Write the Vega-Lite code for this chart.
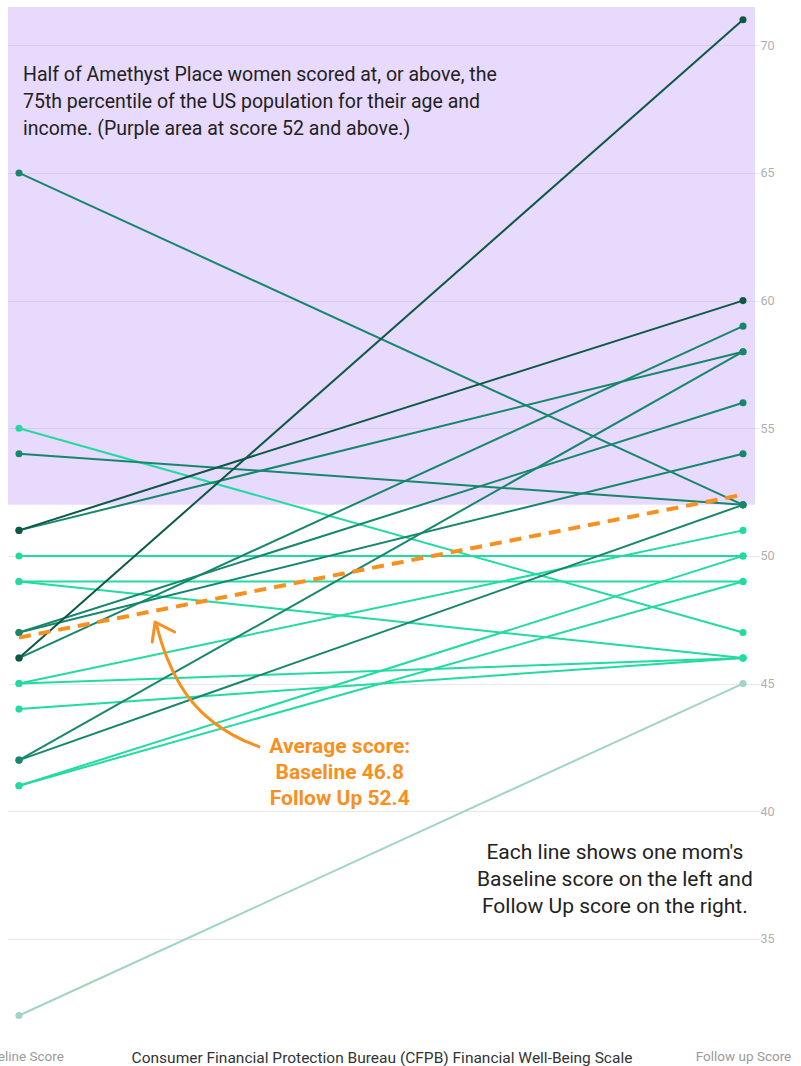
{
  "$schema": "https://vega.github.io/schema/vega-lite/v6.json",
  "width": 747,
  "height": 1034,
  "autosize": {"type": "none"},
  "padding": {"left": 8, "top": 7, "right": 46, "bottom": 25},
  "background": "white",
  "datasets": {
    "band": [{"x": -0.01519, "x2": 1.01657, "y": 52, "y2": 71.5}],
    "people": [
      {"id": "p20", "group": "pale", "x": 0, "y": 32}, {"id": "p20", "group": "pale", "x": 1, "y": 45},
      {"id": "p2", "group": "light", "x": 0, "y": 55}, {"id": "p2", "group": "light", "x": 1, "y": 47},
      {"id": "p6", "group": "light", "x": 0, "y": 50}, {"id": "p6", "group": "light", "x": 1, "y": 50},
      {"id": "p7", "group": "light", "x": 0, "y": 49}, {"id": "p7", "group": "light", "x": 1, "y": 49},
      {"id": "p8", "group": "light", "x": 0, "y": 49}, {"id": "p8", "group": "light", "x": 1, "y": 46},
      {"id": "p13", "group": "light", "x": 0, "y": 45}, {"id": "p13", "group": "light", "x": 1, "y": 51},
      {"id": "p14", "group": "light", "x": 0, "y": 45}, {"id": "p14", "group": "light", "x": 1, "y": 46},
      {"id": "p15", "group": "light", "x": 0, "y": 44}, {"id": "p15", "group": "light", "x": 1, "y": 46},
      {"id": "p18", "group": "light", "x": 0, "y": 41}, {"id": "p18", "group": "light", "x": 1, "y": 50},
      {"id": "p19", "group": "light", "x": 0, "y": 41}, {"id": "p19", "group": "light", "x": 1, "y": 49},
      {"id": "p1", "group": "medium", "x": 0, "y": 65}, {"id": "p1", "group": "medium", "x": 1, "y": 52},
      {"id": "p3", "group": "medium", "x": 0, "y": 54}, {"id": "p3", "group": "medium", "x": 1, "y": 52},
      {"id": "p5", "group": "medium", "x": 0, "y": 51}, {"id": "p5", "group": "medium", "x": 1, "y": 58},
      {"id": "p9", "group": "medium", "x": 0, "y": 47}, {"id": "p9", "group": "medium", "x": 1, "y": 56},
      {"id": "p10", "group": "medium", "x": 0, "y": 47}, {"id": "p10", "group": "medium", "x": 1, "y": 54},
      {"id": "p12", "group": "medium", "x": 0, "y": 46}, {"id": "p12", "group": "medium", "x": 1, "y": 59},
      {"id": "p16", "group": "medium", "x": 0, "y": 42}, {"id": "p16", "group": "medium", "x": 1, "y": 58},
      {"id": "p17", "group": "medium", "x": 0, "y": 42}, {"id": "p17", "group": "medium", "x": 1, "y": 52},
      {"id": "p4", "group": "dark", "x": 0, "y": 51}, {"id": "p4", "group": "dark", "x": 1, "y": 60},
      {"id": "p11", "group": "dark", "x": 0, "y": 46}, {"id": "p11", "group": "dark", "x": 1, "y": 71}
    ],
    "avg": [{"x": 0, "y": 46.8}, {"x": 1, "y": 52.4}],
    "arrow": [
      {"seq": 1, "x": 0.333, "y": 42.51},
      {"seq": 2, "x": 0.296, "y": 42.91},
      {"seq": 3, "x": 0.250, "y": 43.85},
      {"seq": 4, "x": 0.222, "y": 44.87},
      {"seq": 5, "x": 0.199, "y": 46.31},
      {"seq": 6, "x": 0.190, "y": 47.3}
    ],
    "head": [
      {"seq": 1, "x": 0.184, "y": 46.63},
      {"seq": 2, "x": 0.188, "y": 47.41},
      {"seq": 3, "x": 0.215, "y": 47.02}
    ],
    "notes": [
      {"note": "band", "x": 0.0055, "y": 69.2, "text": ["Half of Amethyst Place women scored at, or above, the", "75th percentile of the US population for their age and", "income. (Purple area at score 52 and above.)"]},
      {"note": "avg", "x": 0.443, "y": 42.95, "text": ["Average score:", "Baseline 46.8", "Follow Up 52.4"]},
      {"note": "help", "x": 0.823, "y": 38.8, "text": ["Each line shows one mom's", "Baseline score on the left and", "Follow Up score on the right."]}
    ]
  },
  "encoding": {
    "x": {
      "field": "x",
      "type": "quantitative",
      "scale": {"domain": [-0.01519, 1.01657], "nice": false, "zero": false},
      "axis": {
        "values": [0, 1],
        "labelExpr": "datum.value == 0 ? 'Baseline Score' : 'Follow up Score'",
        "grid": false,
        "ticks": false,
        "domain": false,
        "labelColor": "#9a9a9a",
        "labelFontSize": 13.5,
        "labelPadding": 8,
        "labelOverlap": false,
        "labelFlush": false,
        "labelBound": false,
        "title": "Consumer Financial Protection Bureau (CFPB) Financial Well-Being Scale",
        "titleColor": "#333333",
        "titleFontSize": 15.5,
        "titleFontWeight": "normal",
        "titleY": 16,
        "titleBaseline": "middle"
      }
    },
    "y": {
      "field": "y",
      "type": "quantitative",
      "scale": {"domain": [31, 71.5], "nice": false, "zero": false},
      "axis": {
        "orient": "right",
        "values": [35, 40, 45, 50, 55, 60, 65, 70],
        "grid": true,
        "gridColor": "#e8e8e8",
        "domain": false,
        "ticks": true,
        "tickColor": "#e8e8e8",
        "tickSize": 4,
        "labelPadding": 1,
        "labelColor": "#b0b0b0",
        "labelFontSize": 12.5,
        "title": null
      }
    }
  },
  "layer": [
    {
      "data": {"name": "band"},
      "mark": {"type": "rect", "color": "#bd95f6", "opacity": 0.35},
      "encoding": {"x2": {"field": "x2"}, "y2": {"field": "y2"}}
    },
    {
      "data": {"name": "people"},
      "mark": {"type": "line", "strokeWidth": 2},
      "encoding": {
        "detail": {"field": "id"},
        "color": {
          "field": "group",
          "type": "nominal",
          "scale": {"domain": ["pale", "light", "medium", "dark"], "range": ["#a0d5be", "#22dba0", "#16876c", "#0d5845"]},
          "legend": null
        }
      }
    },
    {
      "data": {"name": "people"},
      "mark": {"type": "point", "filled": true, "size": 50, "opacity": 1},
      "encoding": {
        "color": {"field": "group", "type": "nominal", "legend": null}
      }
    },
    {
      "data": {"name": "avg"},
      "mark": {"type": "line", "color": "#f7901e", "strokeWidth": 4, "strokeDash": [12, 8]},
      "encoding": {}
    },
    {
      "data": {"name": "arrow"},
      "mark": {"type": "line", "color": "#f7901e", "strokeWidth": 3, "interpolate": "basis"},
      "encoding": {"order": {"field": "seq"}}
    },
    {
      "data": {"name": "head"},
      "mark": {"type": "line", "color": "#f7901e", "strokeWidth": 3, "strokeJoin": "round", "strokeCap": "round"},
      "encoding": {"order": {"field": "seq"}}
    },
    {
      "data": {"name": "notes"},
      "transform": [{"filter": "datum.note == 'band'"}],
      "mark": {"type": "text", "align": "left", "baseline": "top", "font": "Roboto", "fontSize": 19.5, "lineHeight": 27, "color": "#222222"},
      "encoding": {"text": {"field": "text"}}
    },
    {
      "data": {"name": "notes"},
      "transform": [{"filter": "datum.note == 'avg'"}],
      "mark": {"type": "text", "align": "center", "baseline": "top", "font": "Roboto", "fontSize": 21, "fontWeight": "bold", "lineHeight": 26, "color": "#f7901e"},
      "encoding": {"text": {"field": "text"}}
    },
    {
      "data": {"name": "notes"},
      "transform": [{"filter": "datum.note == 'help'"}],
      "mark": {"type": "text", "align": "center", "baseline": "top", "font": "Roboto", "fontSize": 21, "lineHeight": 27, "color": "#222222"},
      "encoding": {"text": {"field": "text"}}
    }
  ],
  "config": {
    "font": "Roboto",
    "view": {"stroke": null}
  }
}
